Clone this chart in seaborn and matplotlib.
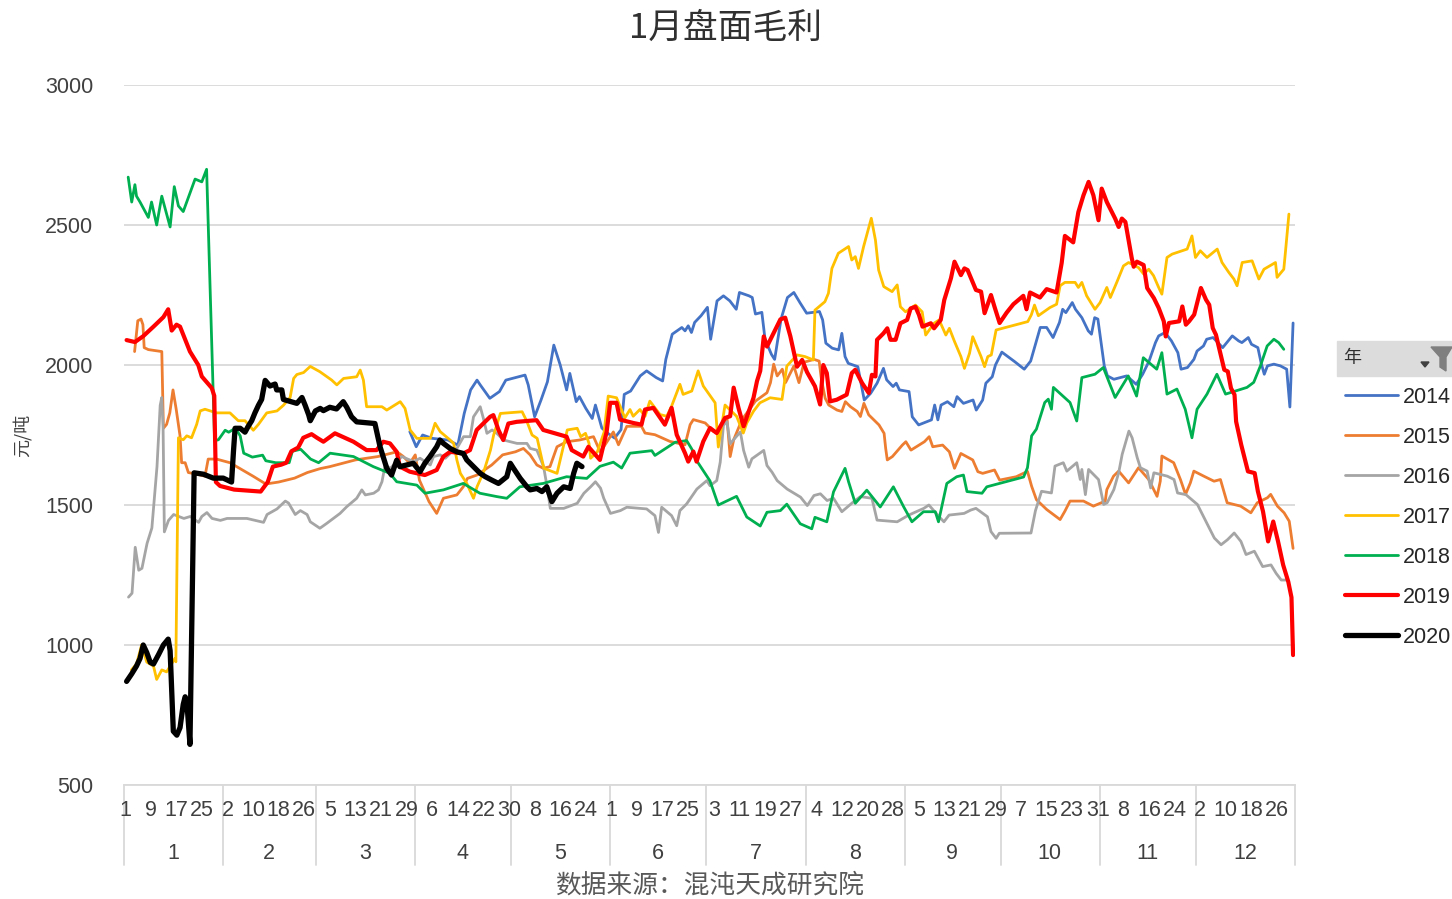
import pandas as pd
import seaborn as sns
import matplotlib.pyplot as plt
from matplotlib.patches import Rectangle, Polygon
import matplotlib.transforms as mtransforms

# day-of-year (leap calendar) -> margin, yuan/ton
pts_2014 = [(90, 1762), (92, 1708), (94, 1750), (97, 1738), (102, 1732), (105, 1714), (107, 1827), (109, 1911),
            (111, 1946), (112, 1929), (115, 1881), (118, 1905), (120, 1946), (126, 1964), (127, 1929), (129, 1815),
            (131, 1875), (133, 1940), (135, 2071), (137, 2000), (139, 1911), (140, 1970), (142, 1869), (143, 1887),
            (145, 1845), (147, 1809), (148, 1857), (150, 1775), (152, 1755), (154, 1739), (156, 1769), (157, 1895),
            (159, 1907), (162, 1961), (164, 1979), (167, 1955), (169, 1943), (170, 2020), (172, 2110), (175, 2134),
            (176, 2122), (177, 2140), (178, 2116), (179, 2152), (181, 2176), (183, 2206), (184, 2092), (186, 2229),
            (188, 2247), (190, 2229), (192, 2199), (193, 2259), (196, 2247), (197, 2241), (198, 2182), (200, 2188),
            (201, 2092), (203, 2038), (204, 2020), (206, 2164), (208, 2241), (210, 2259), (212, 2221), (214, 2185),
            (218, 2191), (219, 2161), (220, 2078), (222, 2060), (224, 2054), (225, 2113), (226, 2030), (227, 2006),
            (230, 1994), (231, 1935), (232, 1875), (234, 1899), (236, 1935), (238, 1988), (239, 1947), (241, 1923),
            (242, 1935), (243, 1911), (246, 1905), (247, 1815), (249, 1786), (253, 1804), (254, 1857), (255, 1804),
            (256, 1857), (258, 1869), (260, 1851), (261, 1887), (263, 1863), (266, 1875), (267, 1839), (269, 1875),
            (270, 1935), (272, 1958), (273, 2000), (275, 2046), (279, 2012), (282, 1985), (284, 2014), (287, 2134),
            (289, 2134), (291, 2098), (293, 2152), (294, 2199), (295, 2187), (297, 2223), (298, 2199), (300, 2169),
            (302, 2122), (303, 2110), (304, 2169), (305, 2164), (307, 1997), (308, 1961), (310, 1949), (314, 1961),
            (317, 1931), (319, 1967), (321, 2014), (323, 2080), (324, 2104), (326, 2116), (328, 2086), (330, 2044),
            (331, 1985), (333, 1991), (335, 2020), (336, 2050), (338, 2068), (339, 2092), (341, 2098), (342, 2086),
            (344, 2062), (347, 2104), (349, 2086), (350, 2080), (352, 2098), (353, 2074), (355, 2062), (356, 2008),
            (357, 1967), (358, 1997), (360, 2003), (362, 1997), (364, 1985), (365, 1850), (366, 2150)]

pts_2015 = [(4, 2048), (5, 2158), (6, 2164), (6.6, 2144), (7, 2062), (8.3, 2055), (12.5, 2048), (13, 1774),
            (14, 1788), (15, 1829), (16, 1911), (17, 1842), (18.2, 1747), (18.7, 1651), (19.8, 1651), (20.8, 1616),
            (23.4, 1610), (26, 1603), (27, 1664), (29.6, 1664), (33.8, 1651), (38, 1623), (41, 1603), (45, 1575),
            (49, 1582), (54, 1596), (58, 1616), (62, 1630), (65, 1637), (69, 1649), (73, 1661), (80, 1673),
            (86, 1690), (88, 1673), (90, 1649), (91.7, 1679), (93, 1589), (96, 1512), (98.4, 1470), (100.5, 1524),
            (104.7, 1536), (106.7, 1565), (108, 1595), (111, 1607), (115.6, 1643), (119, 1679), (123, 1690),
            (125.5, 1702), (127.6, 1679), (129.7, 1643), (131.7, 1631), (133.8, 1637), (136, 1708), (139, 1726),
            (143, 1732), (147.4, 1744), (149.5, 1690), (151, 1715), (153.6, 1761), (155.2, 1715), (157.8, 1781),
            (162.4, 1781), (163.5, 1757), (166.6, 1751), (171.3, 1727), (176, 1715), (177.6, 1787), (178.6, 1805),
            (182.3, 1793), (184.9, 1763), (186.4, 1757), (189.1, 1811), (190.1, 1673), (191.2, 1733), (193.8, 1805),
            (198, 1871), (201.6, 1901), (202.7, 1937), (203.7, 2003), (204.8, 1961), (206.4, 1985), (207.4, 1937),
            (210, 1996), (211.6, 1937), (213.2, 2010), (216.3, 2020), (217.9, 2014), (218.6, 1950), (219.8, 1881),
            (220.9, 1857), (223.5, 1839), (225, 1834), (226.1, 1869), (227.7, 1851), (229.8, 1834), (230.8, 1816),
            (231.9, 1863), (233.4, 1822), (236.6, 1786), (238.2, 1756), (238.7, 1702), (239.2, 1661), (240.8, 1673),
            (243.9, 1714), (245, 1726), (246.6, 1696), (250.8, 1726), (252.3, 1744), (253.4, 1708), (256.5, 1714),
            (258.6, 1690), (260.2, 1631), (262.2, 1684), (265.9, 1661), (267.5, 1619), (269, 1613), (272.7, 1625),
            (274.3, 1589), (279.5, 1601), (283, 1620), (284.3, 1567), (285.8, 1519), (289, 1484), (293.2, 1448),
            (294.7, 1478), (296.3, 1514), (300.5, 1514), (303.6, 1496), (307.3, 1514), (307.8, 1555), (309.9, 1603),
            (311.5, 1621), (314.6, 1579), (317.7, 1633), (320.9, 1591), (323.5, 1531), (324.5, 1585), (325, 1675),
            (328.7, 1651), (330.8, 1591), (332.4, 1538), (333.9, 1579), (335, 1621), (338.1, 1603), (341.3, 1585),
            (343.3, 1591), (345.4, 1508), (349.6, 1496), (352.8, 1472), (354.8, 1508), (358, 1526), (359, 1538),
            (361.1, 1496), (363.2, 1472), (364.8, 1442), (366, 1345)]

pts_2016 = [(2.1, 1171), (3.2, 1185), (4.2, 1349), (5.3, 1267), (6.3, 1274), (7.9, 1363), (9.4, 1418), (11, 1637),
            (12, 1856), (12.5, 1884), (12.9, 1780), (13.3, 1404), (14.6, 1445), (16.2, 1466), (17.8, 1459),
            (19.4, 1452), (21.4, 1459), (24, 1438), (25, 1459), (26.6, 1473), (28.2, 1452), (30.8, 1445),
            (32.9, 1452), (39.1, 1452), (44.3, 1438), (45.4, 1466), (48.5, 1486), (51.1, 1514), (52.1, 1507),
            (54.2, 1466), (55.8, 1480), (57.9, 1466), (58.9, 1440), (61.9, 1417), (64, 1434), (68.2, 1470),
            (70.3, 1494), (73.4, 1524), (75, 1554), (76.1, 1536), (78.7, 1542), (80.2, 1554), (81.3, 1583),
            (82.3, 1643), (83.9, 1631), (86, 1655), (87.5, 1673), (91.2, 1655), (93.2, 1667), (96.4, 1643),
            (97.4, 1673), (99.5, 1679), (101.1, 1667), (102.6, 1684), (104.7, 1702), (106.8, 1744), (108.9, 1744),
            (109.9, 1815), (112, 1851), (113, 1809), (114.1, 1756), (115.7, 1768), (117.2, 1756), (119.3, 1732),
            (123.5, 1720), (126.6, 1720), (127.6, 1702), (129.7, 1696), (131.8, 1637), (132.9, 1565), (133.9, 1488),
            (138.1, 1488), (142.3, 1506), (144.4, 1542), (146.5, 1565), (148, 1583), (149.6, 1560), (150.6, 1524),
            (152.7, 1470), (155.8, 1480), (157.8, 1492), (164, 1486), (166.6, 1462), (167.7, 1402), (168.7, 1492),
            (171.8, 1462), (173.4, 1426), (174.4, 1480), (176.5, 1504), (179.7, 1557), (182.8, 1587), (183.8, 1569),
            (185.9, 1587), (187, 1653), (188, 1785), (189.1, 1797), (190.1, 1719), (193.3, 1761), (194.3, 1695),
            (195.9, 1635), (196.9, 1665), (200.6, 1695), (201.6, 1641), (203.2, 1617), (204.8, 1587), (207.9, 1557),
            (212.1, 1528), (214.2, 1498), (216.3, 1534), (218.3, 1540), (220.4, 1516), (222.4, 1524), (225, 1476),
            (228.7, 1512), (230.8, 1530), (234.4, 1524), (236, 1446), (242.3, 1440), (245.9, 1464), (250.6, 1488),
            (252.2, 1500), (255.4, 1458), (256.9, 1440), (258.5, 1464), (263.2, 1470), (265.3, 1482), (266.9, 1488),
            (270.5, 1458), (271.6, 1405), (273.2, 1381), (274.2, 1399), (284.1, 1400), (285.5, 1480), (287.4, 1549),
            (290.5, 1543), (291.6, 1639), (294.2, 1651), (295.3, 1621), (298.4, 1651), (299.5, 1591), (300, 1627),
            (301.1, 1537), (302.1, 1627), (305.2, 1591), (306.8, 1502), (307.9, 1508), (310, 1555), (311.5, 1615),
            (312.6, 1681), (314.7, 1764), (315.7, 1740), (317.3, 1669), (318.3, 1633), (320.4, 1621), (321.5, 1561),
            (322.5, 1615), (326.7, 1603), (328.8, 1591), (329.9, 1543), (332.5, 1537), (336.1, 1502), (338.2, 1454),
            (339.8, 1418), (341.4, 1382), (343.5, 1358), (345.5, 1376), (347.6, 1400), (349.7, 1370), (351.3, 1323),
            (353.9, 1335), (356.5, 1280), (359.1, 1286), (360.7, 1256), (362.3, 1232), (363.8, 1232)]

pts_2017 = [(3, 911), (4.6, 932), (6.2, 1000), (7.8, 939), (9.9, 925), (10.9, 877), (12.5, 911), (14, 904),
            (16.6, 952), (16.9, 940), (17.7, 1740), (19.2, 1733), (20.3, 1747), (21.8, 1740), (23.4, 1788),
            (24.5, 1836), (26, 1842), (29.6, 1829), (33.8, 1829), (36.4, 1801), (38.5, 1801), (41.1, 1767),
            (42.7, 1788), (45.3, 1829), (48.5, 1836), (50.5, 1856), (52.6, 1884), (53.7, 1952), (54.7, 1966),
            (56.8, 1973), (58.9, 1995), (61.9, 1976), (65.6, 1946), (67.2, 1929), (69.3, 1952), (73.4, 1958),
            (74.5, 1982), (75.5, 1946), (76.5, 1851), (81.3, 1851), (82.8, 1839), (87, 1869), (88.5, 1845),
            (90.1, 1768), (92.2, 1738), (96.4, 1738), (97.9, 1792), (99.5, 1762), (102.6, 1732), (103.7, 1720),
            (104.7, 1661), (105.8, 1613), (107.8, 1577), (109.9, 1524), (111, 1565), (113.1, 1619), (115.2, 1696),
            (116.2, 1750), (118.3, 1827), (125.1, 1833), (126.6, 1798), (128.2, 1750), (129.8, 1738), (131.9, 1631),
            (136, 1613), (138.1, 1714), (139.2, 1768), (142.3, 1774), (143.4, 1744), (144.9, 1756), (146, 1720),
            (146.5, 1667), (148.6, 1690), (150.7, 1760), (152, 1889), (154.6, 1883), (157.2, 1811), (158.8, 1841),
            (159.8, 1817), (161.9, 1841), (163.5, 1817), (165, 1871), (168.2, 1823), (170.3, 1817), (171.8, 1853),
            (174.4, 1931), (175.4, 1895), (178.1, 1907), (180.1, 1979), (181.7, 1925), (185.4, 1865), (186.4, 1707),
            (187.4, 1779), (188.5, 1857), (192.1, 1817), (194.2, 1757), (195.3, 1793), (197.4, 1835), (199.4, 1865),
            (202.6, 1883), (206.3, 1877), (207.8, 1996), (211, 2036), (213.5, 2030), (216.1, 2018), (216.6, 2196),
            (219.7, 2226), (220.8, 2256), (221.9, 2345), (223.9, 2399), (227.1, 2423), (228.1, 2375), (229.2, 2387),
            (230.2, 2345), (231.8, 2423), (234.2, 2524), (235.5, 2446), (236.5, 2339), (238.1, 2280), (240.7, 2262),
            (242.3, 2286), (243.3, 2208), (244.9, 2190), (248, 2214), (250.1, 2190), (251.2, 2107), (253.8, 2149),
            (255.4, 2161), (257.5, 2107), (258.6, 2131), (260.2, 2084), (262.2, 2030), (263.3, 1988), (264.9, 2042),
            (265.9, 2101), (268.5, 2030), (269.6, 1994), (270.6, 2030), (271.7, 2036), (273.2, 2125), (283.1, 2155),
            (284.2, 2179), (285.2, 2214), (286.4, 2176), (290, 2205), (292.1, 2217), (293.2, 2283), (294.7, 2295),
            (297.9, 2295), (298.9, 2277), (300, 2295), (301.5, 2247), (304.1, 2199), (305.7, 2223), (307.8, 2277),
            (308.9, 2241), (310.9, 2295), (313, 2354), (314.6, 2366), (317.7, 2348), (319.3, 2325), (320.9, 2342),
            (322.4, 2319), (324, 2277), (325, 2253), (326.6, 2384), (328.2, 2396), (332.9, 2414), (334.4, 2461),
            (335.5, 2384), (337, 2408), (339.1, 2384), (342.3, 2414), (343.8, 2366), (345.9, 2331), (347.5, 2307),
            (348.5, 2283), (350.1, 2366), (353.2, 2372), (355.3, 2307), (356.9, 2342), (360.5, 2366), (361, 2313),
            (363.1, 2342), (363.6, 2402), (364.7, 2539)]

pts_2018 = [(2, 2671), (3.1, 2582), (4.1, 2644), (4.6, 2603), (5.7, 2582), (8.3, 2527), (9.3, 2582), (10.9, 2500),
            (12.5, 2603), (15.1, 2493), (16.4, 2637), (17.7, 2568), (19.2, 2548), (22.9, 2664), (25, 2654),
            (26.5, 2699), (29, 1730), (30.2, 1733), (32.3, 1767), (33.4, 1760), (35.5, 1774), (37, 1747),
            (38.1, 1685), (40.8, 1671), (44, 1678), (45, 1658), (48.1, 1651), (52.3, 1651), (53.3, 1692),
            (55.9, 1699), (59, 1664), (61.5, 1651), (65.1, 1685), (72.4, 1673), (78.6, 1637), (83.8, 1613),
            (85.9, 1583), (92.2, 1571), (94.75, 1542), (100.5, 1554), (106.7, 1577), (111.9, 1542), (117.2, 1530),
            (120.3, 1524), (124.4, 1565), (131.7, 1577), (139, 1601), (145.3, 1595), (149.4, 1638), (153.6, 1653),
            (156.2, 1632), (158.8, 1685), (165.6, 1694), (166.6, 1677), (172.9, 1724), (176.5, 1730), (178.1, 1700),
            (179.6, 1659), (183.8, 1586), (186.4, 1500), (192.1, 1531), (195.3, 1457), (199.5, 1425), (201.6, 1474),
            (205.8, 1480), (207.8, 1503), (212, 1433), (215.6, 1415), (216.6, 1456), (220.3, 1440), (222.4, 1547),
            (226, 1631), (227.1, 1583), (229.2, 1506), (232.8, 1553), (237, 1493), (241.1, 1565), (244.3, 1494),
            (246.9, 1440), (250.5, 1476), (254.2, 1476), (255.2, 1440), (257.8, 1577), (260.9, 1601), (263, 1607),
            (264.1, 1548), (268.8, 1542), (270.3, 1565), (281.8, 1600), (283, 1633), (284.3, 1747), (285.8, 1771),
            (288.4, 1866), (289.5, 1878), (290.5, 1842), (291.1, 1920), (296.3, 1866), (298.4, 1800), (300, 1955),
            (304.1, 1967), (306.7, 1991), (310.4, 1884), (314.5, 1961), (317.1, 1889), (319.2, 2026), (323.4, 1985),
            (325, 2044), (326.6, 1896), (329.7, 1914), (332.3, 1842), (334.4, 1740), (336, 1842), (339.1, 1896),
            (342.2, 1967), (344.9, 1896), (351.6, 1920), (353.7, 1938), (355.8, 1997), (357.9, 2068), (360, 2092),
            (361.5, 2080), (363.1, 2056)]

pts_2019 = [(1.5, 2089), (4.1, 2082), (6.7, 2103), (9.9, 2137), (13, 2171), (14.5, 2199), (15.6, 2123),
            (17.1, 2144), (18.2, 2137), (21.3, 2048), (23.9, 2000), (25, 1959), (28.1, 1918), (28.9, 1890),
            (29.4, 1582), (30.7, 1568), (35.1, 1555), (43.4, 1548), (45.6, 1582), (47.2, 1637), (49.8, 1644),
            (51.4, 1651), (53, 1692), (55.1, 1705), (56.7, 1740), (59.3, 1753), (61, 1740), (63, 1726), (66.6, 1756),
            (72.4, 1726), (76.5, 1696), (79.6, 1696), (81.7, 1726), (83.8, 1720), (85.9, 1690), (86.9, 1637),
            (90, 1619), (94.7, 1607), (98.4, 1625), (100.5, 1673), (102.6, 1690), (106.7, 1684), (108.8, 1696),
            (110.9, 1768), (115.1, 1815), (116.1, 1821), (117.7, 1768), (119.2, 1732), (120.8, 1791), (123.4, 1797),
            (129.6, 1803), (131.7, 1768), (139, 1744), (140.6, 1696), (144.2, 1673), (145.8, 1708), (149.4, 1661),
            (151.5, 1761), (152.6, 1865), (154.6, 1865), (155.7, 1805), (159.8, 1793), (162.4, 1787), (163.5, 1841),
            (166.1, 1847), (169.7, 1787), (171.8, 1847), (173.4, 1751), (176, 1685), (177, 1655), (178.6, 1691),
            (179.6, 1655), (181.7, 1727), (183.8, 1775), (185.9, 1757), (188.5, 1811), (190.1, 1817), (191.2, 1919),
            (192.7, 1847), (194.3, 1781), (197.4, 1883), (198.5, 1943), (199.5, 1979), (200.6, 2102), (201.6, 2066),
            (205.8, 2163), (207.3, 2169), (208.9, 2103), (211, 1994), (212.6, 2018), (214.1, 1975), (216.6, 1924),
            (218.2, 1859), (219.2, 2000), (220.3, 1971), (221.3, 1870), (223.4, 1876), (226.5, 1894), (228.1, 1971),
            (229.2, 1983), (231.3, 1936), (233.4, 1900), (234.4, 1965), (235.5, 1959), (236, 2090), (238, 2113),
            (239.2, 2131), (240.2, 2090), (241.8, 2090), (243.3, 2149), (245.4, 2161), (246.5, 2202), (248, 2208),
            (249.1, 2179), (250.2, 2137), (252.8, 2149), (253.8, 2131), (255.9, 2161), (257, 2232), (259.1, 2310),
            (260.2, 2369), (262.2, 2321), (263.3, 2345), (264.3, 2339), (266.9, 2268), (268.5, 2262), (269.6, 2185),
            (271.6, 2250), (272.7, 2208), (274.3, 2150), (276.5, 2187), (278.6, 2217), (281.7, 2247), (282.7, 2199),
            (283.8, 2259), (286.9, 2241), (289, 2271), (292.1, 2259), (293.7, 2365), (294.7, 2461), (297.3, 2438),
            (298.9, 2546), (300.5, 2606), (302.1, 2654), (303.6, 2606), (305.2, 2517), (306.2, 2630), (307.8, 2582),
            (310.4, 2523), (311.5, 2493), (312.5, 2523), (313.6, 2511), (315.6, 2381), (316.2, 2351), (317.2, 2369),
            (319.3, 2357), (320.4, 2275), (322.5, 2239), (324, 2204), (325.6, 2156), (326.2, 2102), (327.2, 2150),
            (330.4, 2156), (331.4, 2209), (332.5, 2144), (333.5, 2156), (335.1, 2180), (337.2, 2275), (338.8, 2233),
            (339.8, 2215), (340.9, 2132), (341.9, 2108), (343.5, 2031), (344.5, 1983), (345.6, 1977), (346.6, 1917),
            (347.7, 1894), (348.2, 1798), (349.8, 1715), (351.9, 1620), (354, 1614), (355, 1549), (356.6, 1477),
            (358.2, 1370), (359.8, 1441), (361.3, 1370), (362.9, 1286), (364.5, 1226), (365.5, 1170), (366, 964)]

pts_2020 = [(1.5, 870), (3.1, 897), (4.6, 925), (5.7, 952), (6.7, 1000), (7.8, 973), (8.9, 938), (9.9, 932),
            (11.5, 966), (13, 1000), (14.5, 1021), (15.1, 980), (16.1, 692), (17.2, 678), (18.2, 705), (19.2, 788),
            (19.8, 815), (20.3, 801), (21.3, 645), (22.6, 1615), (25.5, 1610), (28.6, 1596), (31.7, 1596),
            (34.3, 1582), (34.9, 1692), (35.4, 1774), (37, 1774), (38.5, 1760), (39.5, 1781), (40.6, 1801),
            (41.6, 1829), (42.7, 1856), (43.7, 1877), (44.8, 1945), (46.3, 1925), (47.9, 1932), (48.4, 1911),
            (50, 1911), (50.5, 1877), (52.6, 1870), (54.7, 1863), (56.3, 1884), (57.3, 1856), (58.4, 1822),
            (58.9, 1801), (60.5, 1836), (62, 1845), (63, 1837), (65, 1849), (67.1, 1843), (69.2, 1869), (70.3, 1849),
            (71.8, 1815), (73.4, 1797), (79.1, 1791), (80.7, 1708), (82.8, 1631), (84.3, 1607), (85.9, 1660),
            (86.9, 1637), (91.1, 1649), (93.2, 1619), (94.7, 1649), (96.3, 1673), (98.4, 1708), (99.4, 1732),
            (100.5, 1720), (102.6, 1702), (104.7, 1690), (106.7, 1684), (107.8, 1661), (109.9, 1637), (112, 1613),
            (113.6, 1601), (115.6, 1589), (117.7, 1577), (120.3, 1601), (121.4, 1649), (122.4, 1631), (124.5, 1595),
            (126.6, 1565), (127.6, 1554), (129.7, 1559), (131.3, 1548), (132.8, 1565), (134.4, 1512), (136, 1542),
            (138.1, 1565), (140.1, 1559), (141.2, 1613), (142.2, 1649), (143.8, 1637)]

years = ['2014', '2015', '2016', '2017', '2018', '2019', '2020']
colors = {'2014': '#4472C4', '2015': '#ED7D31', '2016': '#A5A5A5', '2017': '#FFC000',
          '2018': '#00B050', '2019': '#FF0000', '2020': '#000000'}
widths = {'2014': 2.0, '2015': 2.0, '2016': 2.0, '2017': 2.0, '2018': 2.0, '2019': 3.0, '2020': 3.8}

month_names = ['1', '2', '3', '4', '5', '6', '7', '8', '9', '10', '11', '12']
month_len = [31, 29, 31, 30, 31, 30, 31, 31, 30, 31, 30, 31]
day_labels = [1, 9, 17, 25, 2, 10, 18, 26, 5, 13, 21, 29, 6, 14, 22, 30, 8, 16, 24,
              1, 9, 17, 25, 3, 11, 19, 27, 4, 12, 20, 28, 5, 13, 21, 29, 7, 15, 23, 31,
              8, 16, 24, 2, 10, 18, 26]

series = dict(zip(years, [pts_2014, pts_2015, pts_2016, pts_2017, pts_2018, pts_2019, pts_2020]))
frames = []
for yr, pts in series.items():
    d = pd.DataFrame(pts, columns=['day', 'value'])
    d['year'] = yr
    frames.append(d)
df = pd.concat(frames, ignore_index=True)

sns.set_style('white')
plt.rcParams['font.family'] = ['Liberation Sans', 'Noto Sans CJK SC', 'DejaVu Sans']
cjk = ['Noto Sans CJK SC', 'DejaVu Sans']
grey_txt = '#404040'
grid_c = '#D9D9D9'
fs = 15.5

W, H = 1452, 899
fig = plt.figure(figsize=(W / 100, H / 100), dpi=100)
ax = fig.add_axes([124 / W, 1 - 785 / H, (1295 - 124) / W, 700 / H])

sns.lineplot(data=df, x='day', y='value', hue='year', size='year', hue_order=years, size_order=years,
             palette=colors, sizes=widths, estimator=None, sort=False, legend=False, ax=ax)
for ln in ax.lines:
    ln.set_solid_joinstyle('round')
handles = list(ax.lines[:7])

ax.set_xlim(0.69, 366.6)
ax.set_ylim(500, 3000)
ax.set_yticks(range(500, 3001, 500))
ax.yaxis.grid(True, color=grid_c, lw=1.3)
ax.xaxis.grid(False)
ax.set_axisbelow(True)
for s in ['left', 'top', 'right']:
    ax.spines[s].set_visible(False)
ax.spines['bottom'].set_color(grid_c)
ax.spines['bottom'].set_linewidth(1.3)
ax.set_xlabel('')
ax.set_ylabel('')

tick_days = [1 + 8 * k for k in range(len(day_labels))]
ax.set_xticks(tick_days, [str(d) for d in day_labels])
ax.tick_params(axis='x', length=0, pad=11, labelsize=fs, labelcolor=grey_txt)
ax.tick_params(axis='y', length=0, pad=22, labelsize=fs, labelcolor=grey_txt)

# month group separators and labels under the day labels
trans = mtransforms.blended_transform_factory(ax.transData, ax.transAxes)
start = 1
bounds = []
for m, n in zip(month_names, month_len):
    bounds.append(start - 0.3)
    ax.text(start + n / 2 - 0.5, -0.098, m, transform=trans, ha='center', va='center',
            fontsize=fs, color=grey_txt)
    start += n
bounds.append(366.6)
bounds[0] = 0.69
for b in bounds:
    ax.plot([b, b], [0, -0.114], transform=trans, color=grid_c, lw=1.3, clip_on=False, zorder=0)

fig.text(726 / W, 1 - 28 / H, '1月盘面毛利', ha='center', va='center', fontsize=25,
         family=cjk, color='#303030')
fig.text(22 / W, 1 - 435 / H, '元/吨', rotation=90, ha='center', va='center', fontsize=13,
         family=cjk, color=grey_txt)
fig.text(710 / W, 1 - 886 / H, '数据来源：混沌天成研究院', ha='center', va='center', fontsize=18.5,
         family=cjk, color='#595959')

# legend with pivot-style header
fig.patches.append(Rectangle((1337 / W, 1 - 376 / H), (W - 1337) / W, 35 / H,
                             transform=fig.transFigure, color='#DCDCDC', zorder=0))
fig.text(1352 / W, 1 - 358 / H, '年', ha='center', va='center', fontsize=13, family=cjk, color='#303030')
funnel = [(1431, 347), (1452, 347), (1446, 357), (1446, 371), (1440, 367), (1440, 357)]
fig.patches.append(Polygon([(x / W, 1 - y / H) for x, y in funnel], closed=True,
                           transform=fig.transFigure, color='#7F7F7F'))
arrow = [(1421, 362), (1429, 362), (1425, 367)]
fig.patches.append(Polygon([(x / W, 1 - y / H) for x, y in arrow], closed=True,
                           transform=fig.transFigure, color='#404040'))
fig.legend(handles, years, loc='upper left', bbox_to_anchor=(1345 / W, 1 - 387 / H), frameon=False,
           fontsize=fs, handlelength=2.45, handletextpad=0.25, labelspacing=0.88, borderpad=0,
           borderaxespad=0, labelcolor='#262626')

fig.savefig('out.png', dpi=100)
